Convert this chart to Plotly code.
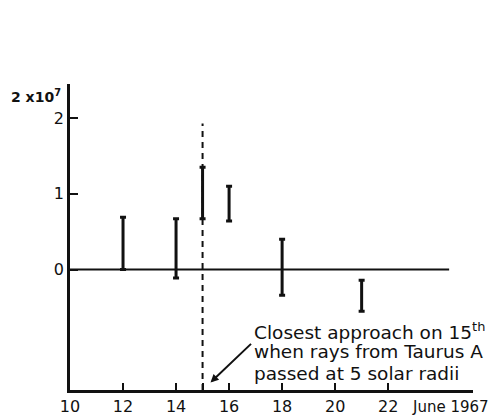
import plotly.graph_objects as go

# Data (units of 1e7, dates in June 1967)
days = [12, 14, 15, 16, 18, 21]
lower = [0.00, -0.11, 0.67, 0.64, -0.34, -0.55]
upper = [0.69, 0.67, 1.35, 1.10, 0.40, -0.14]
tick_vals = [10, 12, 14, 15, 16, 18, 20, 22]
tick_text = ["10", "12", "14", "", "16", "18", "20", "22"]
y_tick_vals = [0, 1, 2]
y_tick_text = ["0", "1", "2"]
closest_day = 15
dash_top = 1.93
zero_line_x = [10, 24.3]
note_lines = ["Closest approach on 15<sup>th</sup>",
              "when rays from Taurus A",
              "passed at 5 solar radii"]

mid = [(a + b) / 2 for a, b in zip(lower, upper)]
half = [(b - a) / 2 for a, b in zip(lower, upper)]

FONT = "DejaVu Sans"
INK = "#111111"

fig = go.Figure()

fig.add_trace(go.Scatter(x=zero_line_x, y=[0, 0], mode="lines",
                         line=dict(color=INK, width=2), hoverinfo="skip"))
fig.add_trace(go.Scatter(x=[closest_day, closest_day], y=[-1.59, dash_top], mode="lines",
                         line=dict(color=INK, width=2, dash="6px,5px"), hoverinfo="skip"))
fig.add_trace(go.Scatter(x=days, y=mid, mode="markers",
                         marker=dict(size=1, color="rgba(0,0,0,0)"),
                         error_y=dict(type="data", array=half, symmetric=True,
                                      color=INK, thickness=3, width=3)))

annotations = [
    dict(xref="paper", yref="y", x=-0.152, y=2.29, xanchor="left", yanchor="middle",
         text="<b>2 x10<sup>7</sup></b>", showarrow=False,
         font=dict(size=14, family=FONT, color=INK)),
    dict(xref="paper", yref="paper", x=(410 - 70) / 403, y=-0.055,
         xanchor="left", yanchor="middle", text="June 1967", showarrow=False,
         font=dict(size=15, family=FONT, color=INK)),
    dict(xref="x", yref="y", x=15.3, y=-1.49, ax=42, ay=-40, text="",
         showarrow=True, arrowhead=2, arrowsize=0.8, arrowwidth=2, arrowcolor=INK),
]
for i, line in enumerate(note_lines):
    annotations.append(dict(xref="x", yref="y", x=16.88, y=-0.81 - i * 0.278,
                            xanchor="left", yanchor="middle", showarrow=False,
                            text=line, font=dict(size=18.5, family=FONT, color=INK)))

fig.update_layout(
    width=492, height=410,
    margin=dict(l=62, r=27, t=76, b=28, autoexpand=False),
    paper_bgcolor="white", plot_bgcolor="white",
    showlegend=False,
    font=dict(family=FONT, size=16, color=INK),
    xaxis=dict(range=[10, 25.2], tickvals=tick_vals, ticktext=tick_text,
               ticks="inside", ticklen=7, tickwidth=1.5, tickcolor=INK,
               showline=True, linecolor=INK, linewidth=2.5, showgrid=False,
               zeroline=False, automargin=False, tickfont=dict(size=16, family=FONT)),
    yaxis=dict(range=[-1.59, 2.45], tickvals=y_tick_vals, ticktext=y_tick_text,
               ticks="inside", ticklen=8, tickwidth=1.5, tickcolor=INK,
               showline=True, linecolor=INK, linewidth=2.5, showgrid=False,
               zeroline=False, automargin=False, tickfont=dict(size=16, family=FONT)),
    annotations=annotations,
)

fig.write_html("out.html")
